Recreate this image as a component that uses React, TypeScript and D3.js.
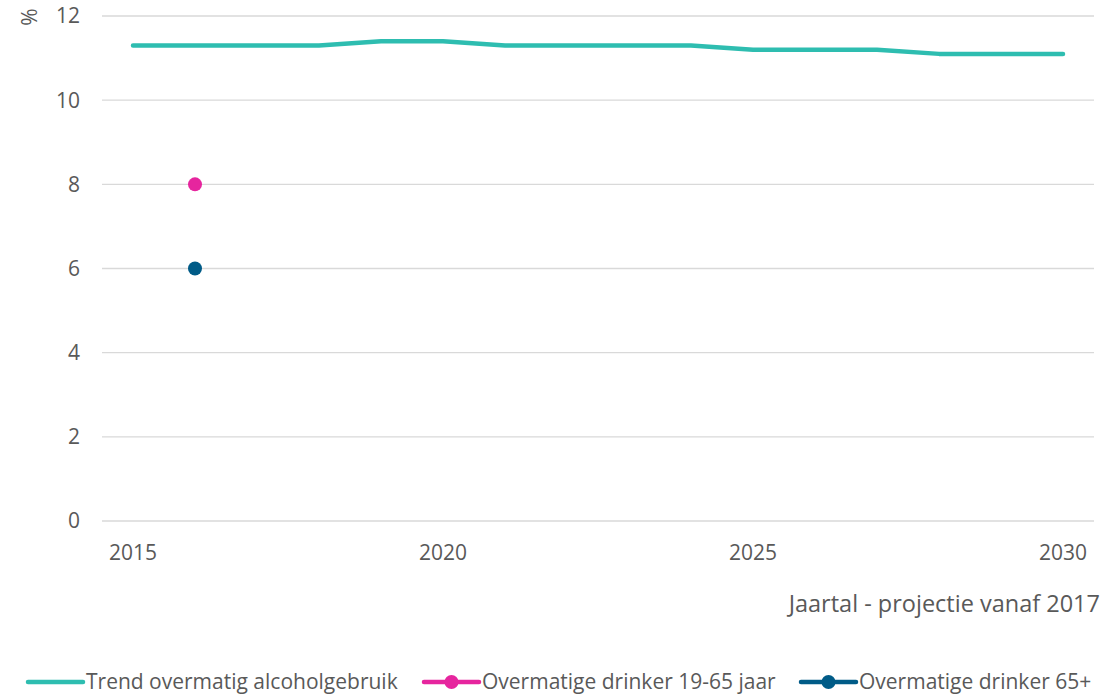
import React from "react";
import * as d3 from "d3";

const years = [2015, 2016, 2017, 2018, 2019, 2020, 2021, 2022, 2023, 2024, 2025, 2026, 2027, 2028, 2029, 2030];
const trend = [11.3, 11.3, 11.3, 11.3, 11.4, 11.4, 11.3, 11.3, 11.3, 11.3, 11.2, 11.2, 11.2, 11.1, 11.1, 11.1];
const drinker1965 = [{ year: 2016, value: 8 }];
const drinker65 = [{ year: 2016, value: 6 }];
const yTicks = [0, 2, 4, 6, 8, 10, 12];
const xTickLabels = [2015, 2020, 2025, 2030];

const W = 1104, H = 695;
const FONT = "'Open Sans', sans-serif";
const TEXT = "#595959";
const TEAL = "#2EBDB0";
const PINK = "#E6259E";
const BLUE = "#005B87";

export default function App() {
  const x = d3.scaleBand<number>().domain(years).range([102, 1094]);
  const cx = (yr: number) => (x(yr) as number) + x.bandwidth() / 2;
  const y = d3.scaleLinear().domain([0, 12]).range([521, 16]);
  const line = d3.line<number>().x((_, i) => cx(years[i])).y((d) => y(d)).curve(d3.curveLinear);

  const legend = [
    { label: "Trend overmatig alcoholgebruik", color: TEAL, x0: 28, marker: false },
    { label: "Overmatige drinker 19-65 jaar", color: PINK, x0: 424, marker: true },
    { label: "Overmatige drinker 65+", color: BLUE, x0: 801, marker: true },
  ];
  const LY = 682;

  return (
    <svg width={W} height={H} style={{ position: "absolute", left: 0, top: 0 }} fontFamily={FONT}>
      <rect width={W} height={H} fill="#fff" />
      {yTicks.map((t) => (
        <g key={t}>
          <line x1={102} x2={1094} y1={y(t)} y2={y(t)} stroke="#d9d9d9" strokeWidth={1.3} />
          <text x={80} y={y(t)} dy="0.35em" textAnchor="end" fontSize={21} fill={TEXT}>{t}</text>
        </g>
      ))}
      <text transform={`translate(30,17) rotate(-90)`} textAnchor="middle" dy="0.35em" fontSize={21} fill={TEXT}>%</text>
      {xTickLabels.map((t) => (
        <text key={t} x={cx(t)} y={553} dy="0.35em" textAnchor="middle" fontSize={21} fill={TEXT}>{t}</text>
      ))}
      <text x={1100} y={604} dy="0.35em" textAnchor="end" fontSize={23.5} fill={TEXT}>Jaartal - projectie vanaf 2017</text>
      <path d={line(trend) || ""} fill="none" stroke={TEAL} strokeWidth={4.5} strokeLinecap="round" strokeLinejoin="round" />
      {drinker1965.map((d) => (
        <circle key={"p" + d.year} cx={cx(d.year)} cy={y(d.value)} r={7} fill={PINK} />
      ))}
      {drinker65.map((d) => (
        <circle key={"b" + d.year} cx={cx(d.year)} cy={y(d.value)} r={7} fill={BLUE} />
      ))}
      {legend.map((l) => (
        <g key={l.label}>
          <line x1={l.x0} x2={l.x0 + 55} y1={LY} y2={LY} stroke={l.color} strokeWidth={4.5} strokeLinecap="round" />
          {l.marker && <circle cx={l.x0 + 27.5} cy={LY} r={7} fill={l.color} />}
          <text x={l.x0 + 58} y={LY} dy="0.35em" fontSize={21} fill={TEXT}>{l.label}</text>
        </g>
      ))}
    </svg>
  );
}
